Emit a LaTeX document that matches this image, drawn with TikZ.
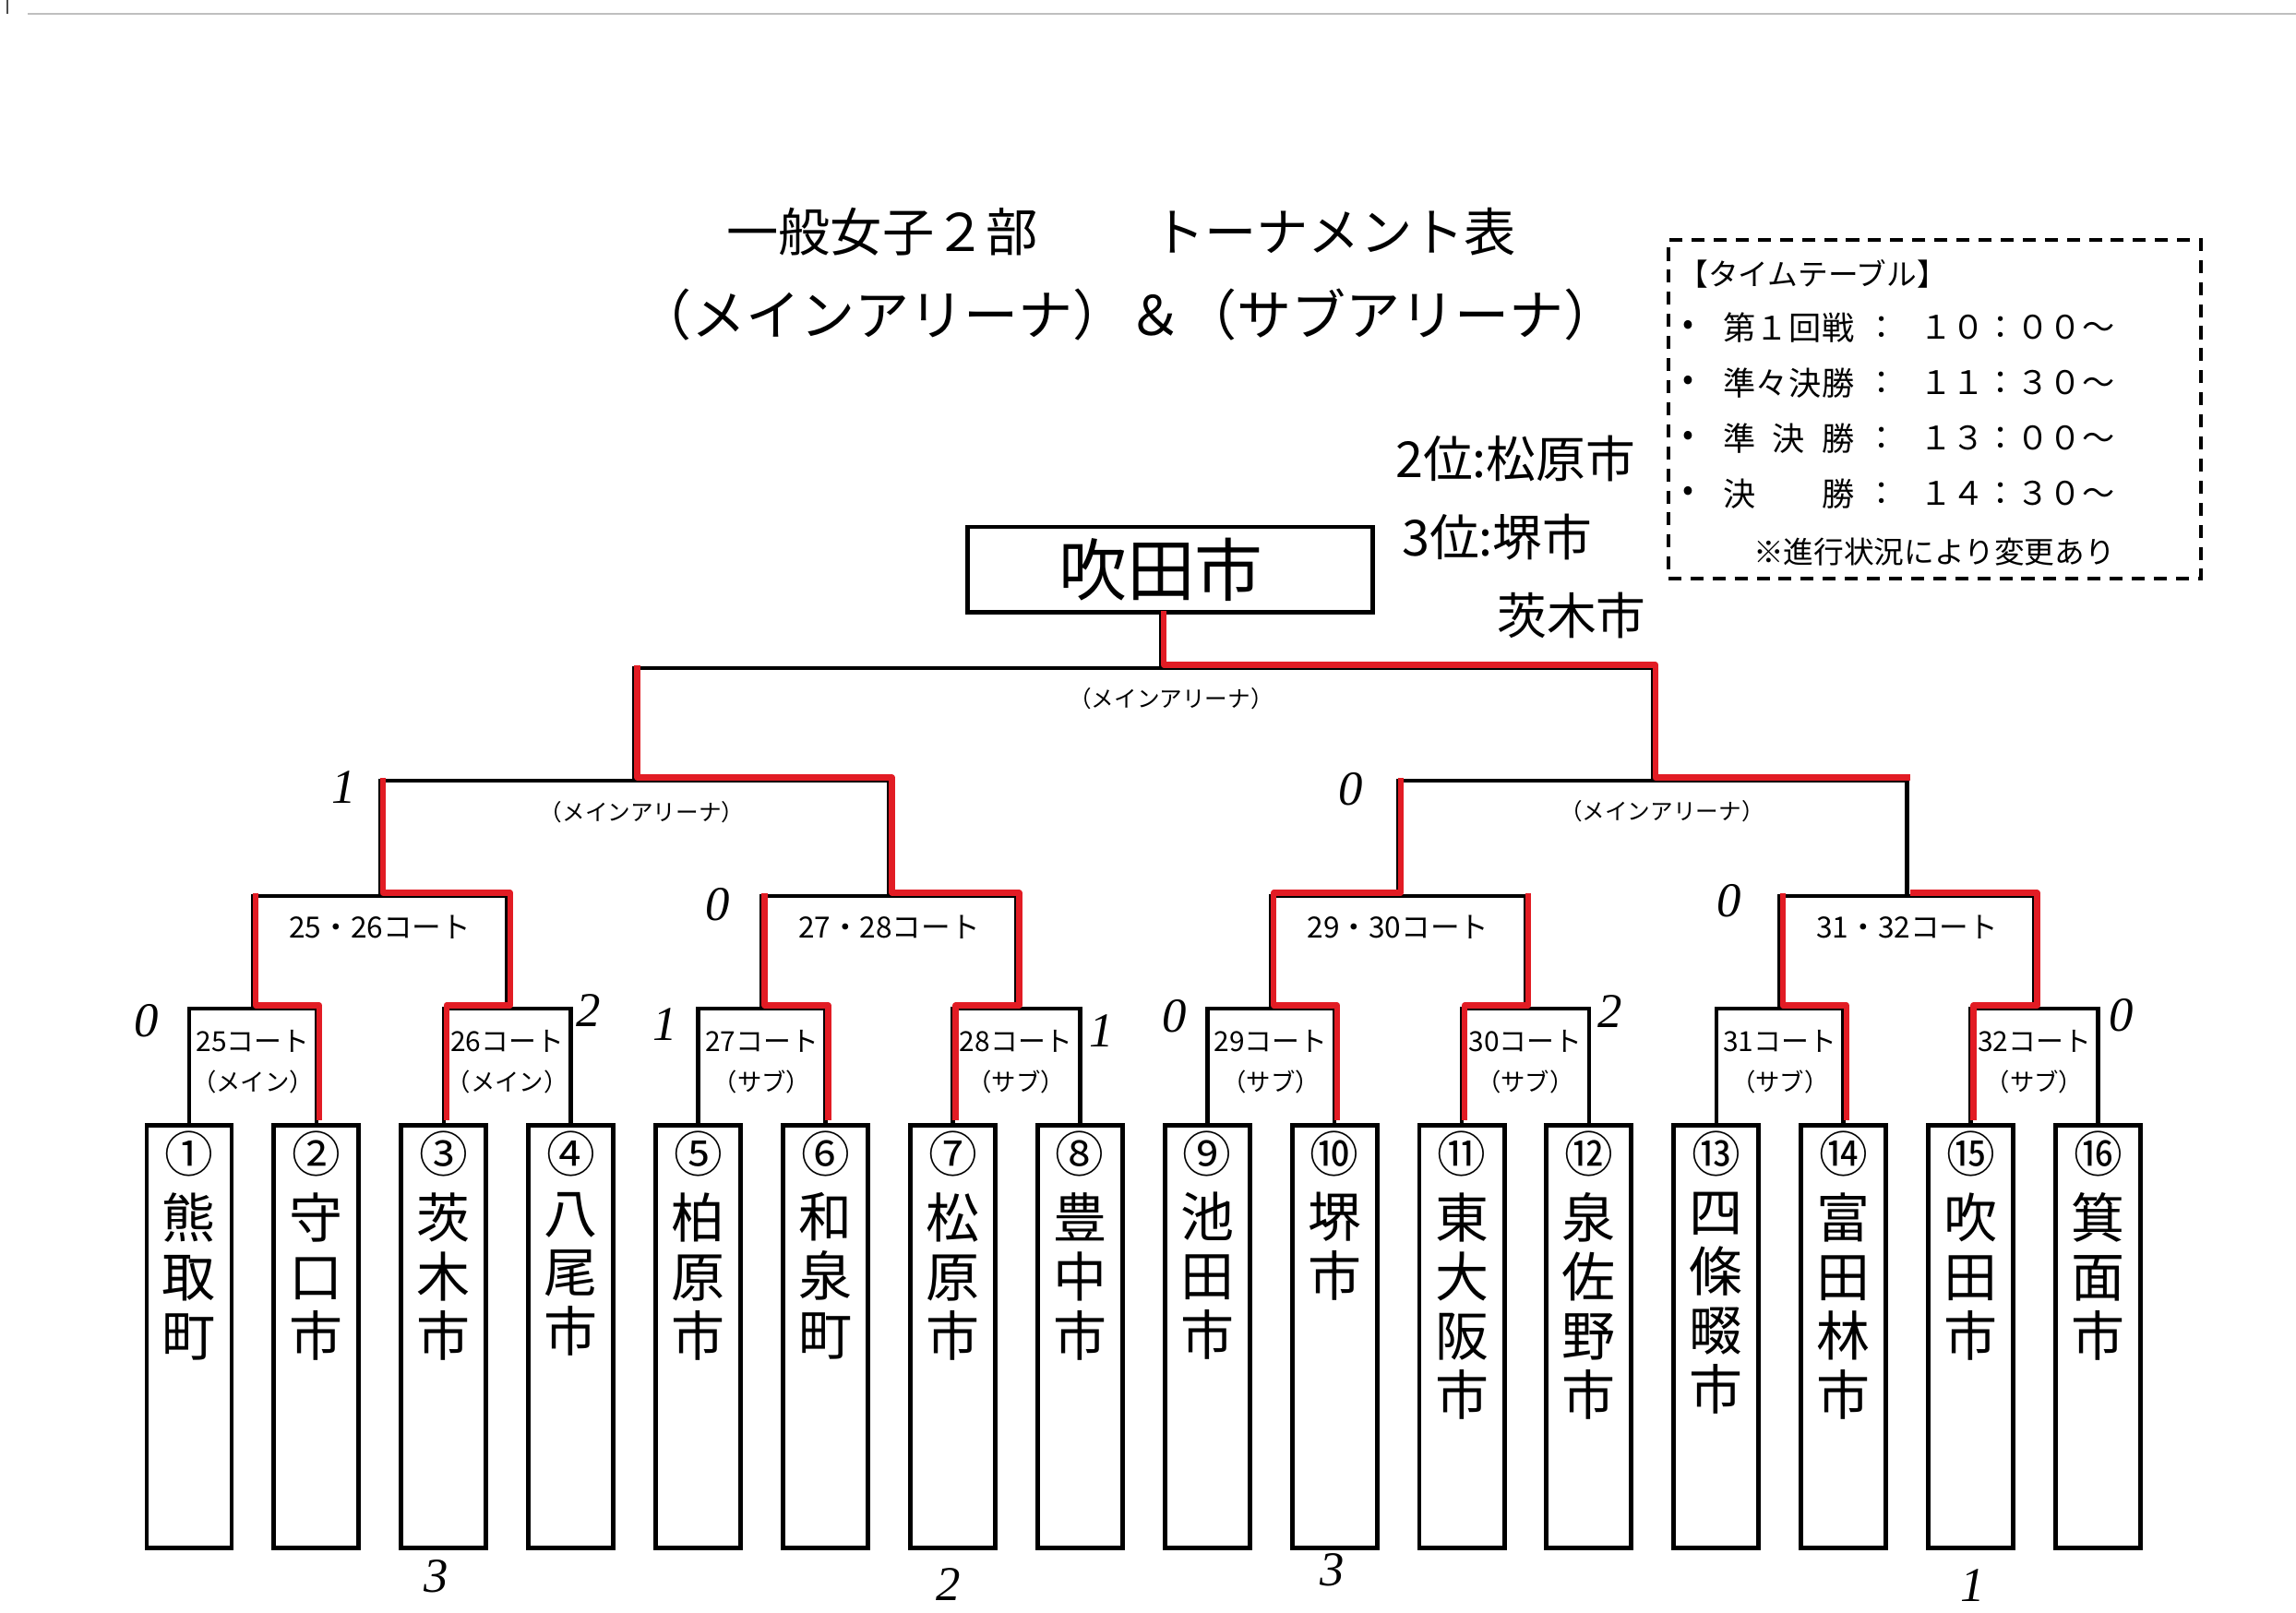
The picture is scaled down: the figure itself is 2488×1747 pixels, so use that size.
\documentclass[tikz,border=0pt]{standalone}
\usepackage{fontspec}
\setmainfont{Noto Sans CJK JP}
\newfontfamily\handfont{Liberation Serif}
\usetikzlibrary{calc, positioning}
\definecolor{marker}{RGB}{226,28,36}

\begin{document}
\begin{tikzpicture}[x=0.01cm, y=-0.01cm, line width=1.3pt,
		team/.style={draw, line width=1.4pt, minimum width=0.92cm, minimum height=4.58cm, anchor=north, inner sep=0pt},
		num/.style={font=\fontsize{15}{15}\selectfont, inner sep=0pt},
		tname/.style={font=\fontsize{16.5}{18.2}\selectfont, align=center, anchor=north, inner sep=0pt},
		title/.style={font=\fontsize{16}{18}\selectfont, inner sep=0pt},
		court/.style={font=\fontsize{8.5}{9}\selectfont, inner sep=0pt},
		arena/.style={font=\fontsize{7.5}{8}\selectfont, inner sep=0pt},
		hall/.style={font=\fontsize{7}{8}\selectfont, inner sep=0pt},
		pair/.style={font=\fontsize{9}{10}\selectfont, inner sep=0pt},
		tt/.style={font=\fontsize{10}{12}\selectfont, inner sep=0pt},
		small/.style={font=\fontsize{9.3}{11}\selectfont, inner sep=0pt},
		hand/.style={font=\fontsize{15.3}{18}\selectfont, inner sep=0pt, anchor=west},
		score/.style={font=\handfont\itshape\fontsize{15}{15}\selectfont, inner sep=0pt},
		win/.style={marker, line width=1.8pt, line join=round}]

	\useasboundingbox (0,0) rectangle (2488,1747);
	\draw[black!25, line width=0.5pt] (30,15) -- (2488,15);
	\draw[black!70, line width=0.4pt] (8,0) -- (8,15);

	\node[title] (head) at (956,251) {一般女子２部};
	\node[title] (kind) at (1446,251) {トーナメント表};
	\node[title, font=\fontsize{16.8}{18}\selectfont] (venue) at (1222,341) {（メインアリーナ）＆（サブアリーナ）};

	\node[draw, line width=1.4pt, minimum width=4.38cm, minimum height=0.92cm, inner sep=0pt] (champ) at (1268,617) {};
	\node[font=\fontsize{21}{21}\selectfont, inner sep=0pt] (champname) at (1258,617) {吹田市};

	\node[hand] (second) at (1510,497) {2位:松原市};
	\node[hand] (third) at (1517,582) {3位:堺市};
	\node[hand] (thirdb) at (1620,667) {茨木市};

	\node[draw, dashed, dash pattern=on 4pt off 2.8pt, line width=1pt, minimum width=5.77cm, minimum height=3.67cm, inner sep=0pt] (timetable) at (2096.5,443.5) {};
	\node[small, anchor=west] (tthead) at (1816,297) {【タイムテーブル】};
	\foreach \y/\what/\when [count=\c] in {355/{第\hfill １\hfill 回\hfill 戦}/{１０：００～}, 415/{準\hfill 々\hfill 決\hfill 勝}/{１１：３０～}, 475/{準\hfill 決\hfill 勝}/{１３：００～}, 535/{決\hfill 勝}/{１４：３０～}}{
		\node[tt] (dot\c) at (1829,\y) {•};
		\node[tt, anchor=west] (round\c) at (1865,\y) {\makebox[1.42cm][s]{\what}};
		\node[tt] (colon\c) at (2039,\y) {：};
		\node[tt, anchor=west] (time\c) at (2078,\y) {\when};
	}
	\node[small] (ttnote) at (2096,598) {※進行状況により変更あり};

	\foreach \i/\n/\name in {1/①/{熊\\取\\町}, 2/②/{守\\口\\市}, 3/③/{茨\\木\\市}, 4/④/{八\\尾\\市}, 5/⑤/{柏\\原\\市}, 6/⑥/{和\\泉\\町}, 7/⑦/{松\\原\\市}, 8/⑧/{豊\\中\\市}, 9/⑨/{池\\田\\市}, 10/⑩/{堺\\市}, 11/⑪/{東\\大\\阪\\市}, 12/⑫/{泉\\佐\\野\\市}, 13/⑬/{四\\條\\畷\\市}, 14/⑭/{富\\田\\林\\市}, 15/⑮/{吹\\田\\市}, 16/⑯/{箕\\面\\市}}{
		\node[team] (t\i) at ({205+137.9*(\i-1)},1217) {};
		\node[num] (n\i) at ($(t\i.north)+(0,33)$) {\n};
		\node[tname] (name\i) at ($(t\i.north)+(0,73)$) {\name};
	}

	\foreach \k in {1,...,8}{
		\pgfmathtruncatemacro\a{2*\k-1}
		\pgfmathtruncatemacro\b{2*\k}
		\path ($(t\a.north)!0.5!(t\b.north)$) ++(0,-124) coordinate (m\k);
	}
	\foreach \k in {1,...,4}{
		\pgfmathtruncatemacro\a{2*\k-1}
		\pgfmathtruncatemacro\b{2*\k}
		\path ($(m\a)!0.5!(m\b)$) ++(0,-122) coordinate (q\k);
	}
	\path ($(q1)!0.5!(q2)$) ++(0,-125) coordinate (s1);
	\path ($(q3)!0.5!(q4)$) ++(0,-125) coordinate (s2);
	\coordinate (f) at (1258,724);

	\foreach \k in {1,...,8}{
		\pgfmathtruncatemacro\a{2*\k-1}
		\pgfmathtruncatemacro\b{2*\k}
		\draw (t\a.north) |- (m\k) -| (t\b.north);
	}
	\foreach \k in {1,...,4}{
		\pgfmathtruncatemacro\a{2*\k-1}
		\pgfmathtruncatemacro\b{2*\k}
		\draw (m\a) |- (q\k) -| (m\b);
	}
	\draw (q1) |- (s1) -| (q2);
	\draw (q3) |- (s2) -| (q4);
	\draw (s1) |- (f) -| (s2);
	\draw (f) -- (f |- champ.south);

	\foreach \k/\c/\h in {1/25/メイン, 2/26/メイン, 3/27/サブ, 4/28/サブ, 5/29/サブ, 6/30/サブ, 7/31/サブ, 8/32/サブ}{
		\node[court] (c\k) at ($(m\k)+(0,35)$) {\c コート};
		\node[arena] (h\k) at ($(m\k)+(0,79)$) {（\h）};
	}
	\foreach \k/\c in {1/25・26, 2/27・28, 3/29・30, 4/31・32}{
		\node[pair] (p\k) at ($(q\k)+(0,34)$) {\c コート};
	}
	\node[hall] (sh1) at ($(s1)+(8,34)$) {（メインアリーナ）};
	\node[hall] (sh2) at ($(s2)+(10,33)$) {（メインアリーナ）};
	\node[hall] (fh) at ($(f)+(11,33)$) {（メインアリーナ）};

	\begin{scope}[transform canvas={xshift=0.03cm, yshift=0.035cm}]
		\draw[win] (t2.north) |- (m1) -- (m1 |- q1);
		\draw[win] (t3.north) |- (m2) |- (q1) -- (q1 |- s1);
		\draw[win] (t6.north) |- (m3) -- (m3 |- q2);
		\draw[win] (t7.north) |- (m4) |- (q2) |- (s1) -- (s1 |- f);
		\draw[win] (t10.north) |- (m5) |- (q3) -- (q3 |- s2);
		\draw[win] (t11.north) |- (m6) -- (m6 |- q3);
		\draw[win] (t14.north) |- (m7) -- (m7 |- q4);
		\draw[win] (t15.north) |- (m8) |- (q4);
		\draw[win] (q4 |- s2) -- (s2) |- (f) -- (f |- champ.south);
	\end{scope}

	\foreach \x/\y/\v [count=\c] in {159/1106/0, 638/1095/2, 721/1110/1, 1194/1117/1, 1273/1101/0, 1745/1096/2, 2299/1100/0, 373/853/1, 778/980/0, 1464/855/0, 1874/976/0, 473/1708/3, 1028/1717/2, 1444/1701/3, 2138/1718/1}{
		\node[score] (mark\c) at (\x,\y) {\v};
	}
\end{tikzpicture}
\end{document}
